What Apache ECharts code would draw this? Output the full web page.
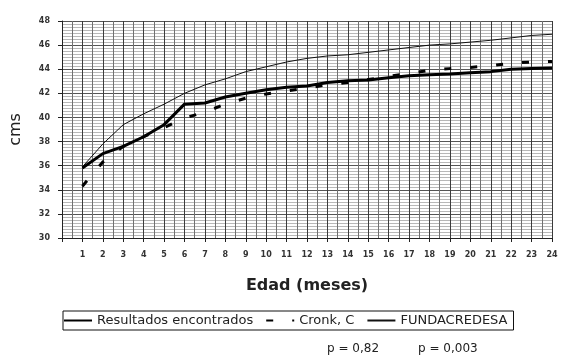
<!DOCTYPE html>
<html>
<head>
<meta charset="utf-8">
<script src="https://cdn.jsdelivr.net/npm/echarts@6/dist/echarts.min.js"></script>
<style>
  html, body { margin: 0; padding: 0; background: #fff; }
  #chart { width: 562px; height: 357px; }
</style>
</head>
<body>
<div id="chart"></div>
<script>
// Perímetro cefálico (cms) por edad (meses)
const meses = [1,2,3,4,5,6,7,8,9,10,11,12,13,14,15,16,17,18,19,20,21,22,23,24];
const resultados = [35.8,37.0,37.6,38.4,39.4,41.1,41.2,41.7,42.0,42.3,42.5,42.6,42.9,43.05,43.1,43.3,43.45,43.55,43.6,43.7,43.8,44.0,44.05,44.1];
const cronk = [34.3,36.3,37.6,38.4,39.15,39.95,40.45,41.1,41.6,41.95,42.2,42.45,42.7,42.9,43.15,43.4,43.65,43.9,44.05,44.15,44.3,44.5,44.6,44.65];
const fundacredesa = [35.9,37.8,39.4,40.3,41.1,42.0,42.7,43.2,43.8,44.2,44.6,44.9,45.1,45.2,45.4,45.6,45.8,46.0,46.1,46.25,46.4,46.6,46.8,46.9];
const yTicks = { min: 30, max: 48, step: 2 };
const xTicks = { min: 0, max: 24, step: 1 };
const nombres = ['Resultados encontrados', 'Cronk, C', 'FUNDACREDESA'];
const pValores = ['p = 0,82', 'p = 0,003'];

const pares = (ys) => meses.map((m, i) => [m, ys[i]]);
const font = 'DejaVu Sans, Liberation Sans, sans-serif';

const chart = echarts.init(document.getElementById('chart'), null, { renderer: 'canvas' });
chart.setOption({
  animation: false,
  backgroundColor: '#fff',
  grid: { left: 56, right: 10, top: 21, bottom: 119 },
  xAxis: {
    type: 'value', min: xTicks.min, max: xTicks.max, interval: xTicks.step,
    name: 'Edad (meses)', nameLocation: 'middle', nameGap: 40,
    nameTextStyle: { fontFamily: font, fontSize: 16, fontWeight: 'bold', color: '#222' },
    axisLine: { show: true, lineStyle: { color: '#222', width: 1 } },
    axisTick: { show: true, length: 4, lineStyle: { color: '#222' } },
    axisLabel: { fontFamily: font, fontSize: 8, fontWeight: 'bold', color: '#333', margin: 13,
      formatter: v => (v >= 1 ? String(v) : '') },
    splitLine: { show: true, lineStyle: { color: '#3a3a3a', width: 1 } },
    minorTick: { show: false, splitNumber: 2 },
    minorSplitLine: { show: true, lineStyle: { color: '#707070', width: 1 } }
  },
  yAxis: {
    type: 'value', min: yTicks.min, max: yTicks.max, interval: yTicks.step,
    name: 'cms', nameLocation: 'middle', nameGap: 38, nameRotate: 90,
    nameTextStyle: { fontFamily: font, fontSize: 16, color: '#222' },
    axisLine: { show: true, lineStyle: { color: '#222', width: 1 } },
    axisTick: { show: true, length: 4, lineStyle: { color: '#222' } },
    axisLabel: { fontFamily: font, fontSize: 8, fontWeight: 'bold', color: '#333', margin: 12 },
    splitLine: { show: true, lineStyle: { color: '#555', width: 1 } },
    minorTick: { show: false, splitNumber: 8 },
    minorSplitLine: { show: true, lineStyle: { color: '#b8b8b8', width: 1 } }
  },
  legend: {
    left: 63, top: 311,
    data: nombres,
    itemWidth: 28, itemHeight: 10, itemGap: 12,
    padding: [3, 6, 3, 0],
    borderColor: '#111', borderWidth: 1,
    itemStyle: { opacity: 0 },
    textStyle: { fontFamily: font, fontSize: 13, color: '#222' }
  },
  series: [
    {
      name: nombres[0], type: 'line', data: pares(resultados),
      symbol: 'none', lineStyle: { color: '#000', width: 3 }, itemStyle: { color: '#000' }, z: 4
    },
    {
      name: nombres[1], type: 'line', data: pares(cronk),
      symbol: 'none', lineStyle: { color: '#000', width: 3, type: [7, 19] }, itemStyle: { color: '#000' }, z: 3
    },
    {
      name: nombres[2], type: 'line', data: pares(fundacredesa),
      symbol: 'none', lineStyle: { color: '#111', width: 1 }, itemStyle: { color: '#111' }, z: 3
    }
  ],
  graphic: [
    { type: 'text', left: 327, top: 343, style: { text: pValores[0], font: '12px ' + font, fill: '#222' } },
    { type: 'text', left: 418, top: 343, style: { text: pValores[1], font: '12px ' + font, fill: '#222' } }
  ]
});
</script>
</body>
</html>
